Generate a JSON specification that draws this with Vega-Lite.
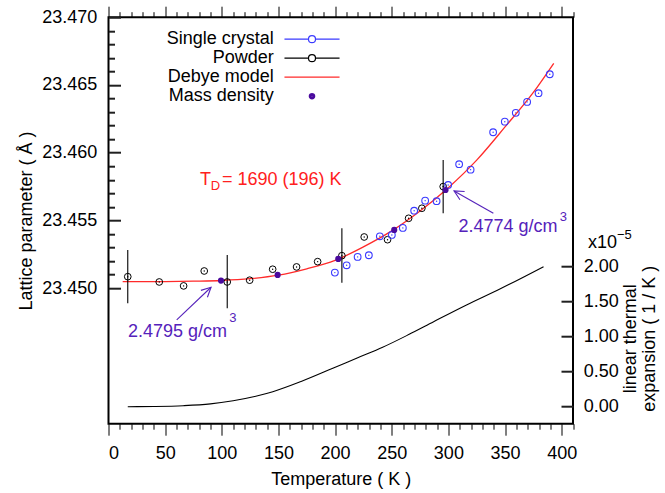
{
  "$schema": "https://vega.github.io/schema/vega-lite/v6.json",
  "width": 464.5,
  "height": 406.5,
  "autosize": "none",
  "padding": {"left": 108.5, "top": 17.2, "right": 92, "bottom": 69.3},
  "config": {
    "font": "Liberation Sans",
    "view": {"stroke": "black", "strokeWidth": 2},
    "axis": {"zindex": 1, "labelFontSize": 18, "titleFontSize": 18, "labelColor": "black", "titleColor": "black", "tickColor": "black", "tickWidth": 1, "tickOpacity": 1, "labelFont": "Liberation Sans", "titleFont": "Liberation Sans", "titleFontWeight": "normal", "grid": false, "domain": false}
  },
  "datasets": {
    "debye": [
      {"T": 12.5, "a": 23.45048}, {"T": 25, "a": 23.45048}, {"T": 50, "a": 23.45049}, {"T": 75, "a": 23.45052},
      {"T": 100, "a": 23.45057}, {"T": 125, "a": 23.4507}, {"T": 150, "a": 23.45096}, {"T": 175, "a": 23.45143},
      {"T": 200, "a": 23.45205}, {"T": 225, "a": 23.45305}, {"T": 250, "a": 23.45423}, {"T": 275, "a": 23.4557},
      {"T": 300, "a": 23.45742}, {"T": 325, "a": 23.45945}, {"T": 350, "a": 23.4619}, {"T": 375, "a": 23.46445},
      {"T": 393, "a": 23.4666}
    ],
    "powder": [
      {"T": 17, "a": 23.45085}, {"T": 44.8, "a": 23.45046}, {"T": 66.3, "a": 23.45017}, {"T": 84.5, "a": 23.45127},
      {"T": 104.8, "a": 23.45046}, {"T": 124.6, "a": 23.45059}, {"T": 144.9, "a": 23.4514}, {"T": 166, "a": 23.45157},
      {"T": 184.6, "a": 23.45196}, {"T": 206, "a": 23.4524}, {"T": 225.7, "a": 23.45378}, {"T": 246.3, "a": 23.45358},
      {"T": 264.9, "a": 23.45516}, {"T": 276.6, "a": 23.4559}, {"T": 295.4, "a": 23.4575}
    ],
    "single": [
      {"T": 199.8, "a": 23.45115}, {"T": 210.2, "a": 23.45169}, {"T": 219.9, "a": 23.45231}, {"T": 229.8, "a": 23.45243},
      {"T": 239.5, "a": 23.45383}, {"T": 250.1, "a": 23.45393}, {"T": 259.8, "a": 23.45445}, {"T": 269.8, "a": 23.45572},
      {"T": 279.5, "a": 23.45646}, {"T": 289.6, "a": 23.45642}, {"T": 299.8, "a": 23.45762}, {"T": 309.5, "a": 23.45915},
      {"T": 319.6, "a": 23.45875}, {"T": 339.5, "a": 23.46151}, {"T": 349.8, "a": 23.46229}, {"T": 359.5, "a": 23.46294},
      {"T": 369.5, "a": 23.46375}, {"T": 379.6, "a": 23.46439}, {"T": 389.5, "a": 23.46579}
    ],
    "density": [
      {"T": 99.3, "a": 23.45056}, {"T": 149.3, "a": 23.45098}, {"T": 202.8, "a": 23.45216}, {"T": 252.2, "a": 23.4543}, {"T": 297.5, "a": 23.45725}
    ],
    "errors": [
      {"T": 17, "lo": 23.44889, "hi": 23.45282}, {"T": 104.8, "lo": 23.44852, "hi": 23.45245},
      {"T": 206, "lo": 23.45041, "hi": 23.45442}, {"T": 295.4, "lo": 23.45553, "hi": 23.45947}
    ],
    "alpha": [
      {"T": 17, "v": 0}, {"T": 40, "v": 0.003}, {"T": 66, "v": 0.014}, {"T": 90, "v": 0.04}, {"T": 110, "v": 0.086},
      {"T": 130, "v": 0.15}, {"T": 145, "v": 0.214}, {"T": 170, "v": 0.36}, {"T": 198, "v": 0.549}, {"T": 220, "v": 0.7},
      {"T": 242, "v": 0.849}, {"T": 265, "v": 1.03}, {"T": 287, "v": 1.214}, {"T": 316, "v": 1.453}, {"T": 345, "v": 1.677},
      {"T": 384, "v": 2.0}
    ],
    "arrows": [
      {"T1": 60.2, "a1": 23.44766, "T2": 90.5, "a2": 23.45007},
      {"T1": 339.7, "a1": 23.45553, "T2": 305.0, "a2": 23.45718}
    ],
    "legend": [
      {"series": "Single crystal"}, {"series": "Powder"}, {"series": "Debye model"}, {"series": "Mass density"}
    ]
  },
  "resolve": {"scale": {"y": "independent"}, "axis": {"x": "independent", "y": "independent"}},
  "layer": [
    {
      "data": {"name": "debye"},
      "mark": {"type": "line", "color": "#ff2a2a", "strokeWidth": 1.3, "interpolate": "monotone"},
      "encoding": {
        "x": {"field": "T", "type": "quantitative", "scale": {"domain": [0, 410], "nice": false, "zero": false},
          "axis": {"orient": "bottom", "values": [0, 50, 100, 150, 200, 250, 300, 350, 400], "tickSize": 11.5, "labelPadding": 9, "title": "Temperature ( K )", "titlePadding": 8}},
        "y": {"field": "a", "type": "quantitative", "scale": {"domain": [23.44, 23.47], "nice": false, "zero": false},
          "axis": {"orient": "left", "offset": -12, "ticks": true, "tickColor": "#202020", "tickWidth": 2, "values": [23.45, 23.455, 23.46, 23.465, 23.47], "format": ".3f", "tickSize": 12, "labelPadding": 11.8, "title": "Lattice parameter ( Å )", "titlePadding": 6}}
      }
    },
    {
      "data": {"name": "errors"},
      "mark": {"type": "rule", "color": "black", "strokeWidth": 1.1},
      "encoding": {
        "x": {"field": "T", "type": "quantitative", "scale": {"domain": [0, 410], "nice": false, "zero": false},
          "axis": {"orient": "bottom", "values": [10, 20, 30, 40, 60, 70, 80, 90, 110, 120, 130, 140, 160, 170, 180, 190, 210, 220, 230, 240, 260, 270, 280, 290, 310, 320, 330, 340, 360, 370, 380, 390, 410], "tickSize": 5.5, "labels": false, "title": null}},
        "y": {"field": "lo", "type": "quantitative", "scale": {"domain": [23.44, 23.47], "nice": false, "zero": false},
          "axis": {"orient": "left", "offset": -6, "ticks": true, "tickColor": "#202020", "tickWidth": 2, "values": [23.451, 23.452, 23.453, 23.454, 23.456, 23.457, 23.458, 23.459, 23.461, 23.462, 23.463, 23.464, 23.466, 23.467, 23.468, 23.469], "tickSize": 6, "labels": false, "title": null}},
        "y2": {"field": "hi"}
      }
    },
    {
      "data": {"name": "powder"},
      "mark": {"type": "point", "shape": "circle", "filled": false, "color": "black", "strokeWidth": 1, "size": 45, "opacity": 1},
      "encoding": {
        "x": {"field": "T", "type": "quantitative", "scale": {"domain": [0, 410], "nice": false, "zero": false},
          "axis": {"orient": "top", "values": [0, 50, 100, 150, 200, 250, 300, 350, 400], "tickSize": 11, "labels": false, "title": null}},
        "y": {"field": "a", "type": "quantitative", "scale": {"domain": [23.44, 23.47], "nice": false, "zero": false}, "axis": null}
      }
    },
    {
      "data": {"name": "powder"},
      "mark": {"type": "point", "shape": "circle", "filled": true, "color": "black", "size": 2, "opacity": 1},
      "encoding": {
        "x": {"field": "T", "type": "quantitative", "scale": {"domain": [0, 410], "nice": false, "zero": false},
          "axis": {"orient": "top", "values": [10, 20, 30, 40, 60, 70, 80, 90, 110, 120, 130, 140, 160, 170, 180, 190, 210, 220, 230, 240, 260, 270, 280, 290, 310, 320, 330, 340, 360, 370, 380, 390, 410], "tickSize": 5.5, "labels": false, "title": null}},
        "y": {"field": "a", "type": "quantitative", "scale": {"domain": [23.44, 23.47], "nice": false, "zero": false}, "axis": null}
      }
    },
    {
      "data": {"name": "single"},
      "mark": {"type": "point", "shape": "circle", "filled": false, "color": "#3a3aff", "strokeWidth": 1.1, "size": 45, "opacity": 1},
      "encoding": {
        "x": {"field": "T", "type": "quantitative", "scale": {"domain": [0, 410], "nice": false, "zero": false}, "axis": null},
        "y": {"field": "a", "type": "quantitative", "scale": {"domain": [23.44, 23.47], "nice": false, "zero": false}, "axis": null}
      }
    },
    {
      "data": {"name": "single"},
      "mark": {"type": "point", "shape": "circle", "filled": true, "color": "#3a3aff", "size": 2, "opacity": 1},
      "encoding": {
        "x": {"field": "T", "type": "quantitative", "scale": {"domain": [0, 410], "nice": false, "zero": false}, "axis": null},
        "y": {"field": "a", "type": "quantitative", "scale": {"domain": [23.44, 23.47], "nice": false, "zero": false}, "axis": null}
      }
    },
    {
      "data": {"name": "density"},
      "mark": {"type": "point", "shape": "circle", "filled": true, "color": "#4a0a9e", "size": 38, "opacity": 1},
      "encoding": {
        "x": {"field": "T", "type": "quantitative", "scale": {"domain": [0, 410], "nice": false, "zero": false}, "axis": null},
        "y": {"field": "a", "type": "quantitative", "scale": {"domain": [23.44, 23.47], "nice": false, "zero": false}, "axis": null}
      }
    },
    {
      "data": {"name": "alpha"},
      "mark": {"type": "line", "color": "black", "strokeWidth": 1.1, "interpolate": "monotone"},
      "encoding": {
        "x": {"field": "T", "type": "quantitative", "scale": {"domain": [0, 410], "nice": false, "zero": false}, "axis": null},
        "y": {"field": "v", "type": "quantitative", "scale": {"domain": [-0.243, 5.564], "nice": false, "zero": false},
          "axis": {"orient": "right", "offset": -12, "ticks": true, "tickColor": "#202020", "tickWidth": 2, "values": [0, 0.5, 1, 1.5, 2], "format": ".2f", "tickSize": 12, "labelPadding": 10.3, "title": ["linear thermal", "expansion ( 1 / K )"], "titleAngle": 270, "titleY": 321, "titlePadding": 2, "titleLineHeight": 19}}
      }
    },
    {
      "data": {"name": "arrows"},
      "mark": {"type": "rule", "color": "#5522bb", "strokeWidth": 1.1},
      "encoding": {
        "x": {"field": "T1", "type": "quantitative", "scale": {"domain": [0, 410], "nice": false, "zero": false}, "axis": null},
        "y": {"field": "a1", "type": "quantitative", "scale": {"domain": [23.44, 23.47], "nice": false, "zero": false}, "axis": null},
        "x2": {"field": "T2"},
        "y2": {"field": "a2"}
      }
    },
    {
      "data": {"values": [{}]},
      "mark": {"type": "point", "shape": "M-1,-0.5L0,0L-1,0.5", "filled": false, "color": "#5522bb", "strokeWidth": 1.1, "size": 360, "angle": 316.4, "opacity": 1},
      "encoding": {
        "x": {"datum": 90.5, "type": "quantitative", "scale": {"domain": [0, 410], "nice": false, "zero": false}, "axis": null},
        "y": {"datum": 23.45007, "type": "quantitative", "scale": {"domain": [23.44, 23.47], "nice": false, "zero": false}, "axis": null}
      }
    },
    {
      "data": {"values": [{}]},
      "mark": {"type": "point", "shape": "M-1,-0.5L0,0L-1,0.5", "filled": false, "color": "#5522bb", "strokeWidth": 1.1, "size": 360, "angle": 209.6, "opacity": 1},
      "encoding": {
        "x": {"datum": 305.0, "type": "quantitative", "scale": {"domain": [0, 410], "nice": false, "zero": false}, "axis": null},
        "y": {"datum": 23.45718, "type": "quantitative", "scale": {"domain": [23.44, 23.47], "nice": false, "zero": false}, "axis": null}
      }
    },
    {
      "data": {"values": [{}]},
      "mark": {"type": "text", "text": "T", "align": "left", "baseline": "middle", "fontSize": 18, "color": "#ff2020"},
      "encoding": {
        "x": {"datum": 80.8, "type": "quantitative", "scale": {"domain": [0, 410], "nice": false, "zero": false}, "axis": null},
        "y": {"datum": 23.45799, "type": "quantitative", "scale": {"domain": [23.44, 23.47], "nice": false, "zero": false}, "axis": null}
      }
    },
    {
      "data": {"values": [{}]},
      "mark": {"type": "text", "text": "D", "align": "left", "baseline": "middle", "fontSize": 13, "color": "#ff2020"},
      "encoding": {
        "x": {"datum": 90.3, "type": "quantitative", "scale": {"domain": [0, 410], "nice": false, "zero": false}, "axis": null},
        "y": {"datum": 23.45755, "type": "quantitative", "scale": {"domain": [23.44, 23.47], "nice": false, "zero": false}, "axis": null}
      }
    },
    {
      "data": {"values": [{}]},
      "mark": {"type": "text", "text": "= 1690 (196) K", "align": "left", "baseline": "middle", "fontSize": 18, "color": "#ff2020"},
      "encoding": {
        "x": {"datum": 100.1, "type": "quantitative", "scale": {"domain": [0, 410], "nice": false, "zero": false}, "axis": null},
        "y": {"datum": 23.45799, "type": "quantitative", "scale": {"domain": [23.44, 23.47], "nice": false, "zero": false}, "axis": null}
      }
    },
    {
      "data": {"values": [{}]},
      "mark": {"type": "text", "text": "2.4795 g/cm", "align": "left", "baseline": "middle", "fontSize": 18, "color": "#5522bb"},
      "encoding": {
        "x": {"datum": 17.2, "type": "quantitative", "scale": {"domain": [0, 410], "nice": false, "zero": false}, "axis": null},
        "y": {"datum": 23.44679, "type": "quantitative", "scale": {"domain": [23.44, 23.47], "nice": false, "zero": false}, "axis": null}
      }
    },
    {
      "data": {"values": [{}]},
      "mark": {"type": "text", "text": "3", "align": "left", "baseline": "middle", "fontSize": 13, "color": "#5522bb"},
      "encoding": {
        "x": {"datum": 106.6, "type": "quantitative", "scale": {"domain": [0, 410], "nice": false, "zero": false}, "axis": null},
        "y": {"datum": 23.4478, "type": "quantitative", "scale": {"domain": [23.44, 23.47], "nice": false, "zero": false}, "axis": null}
      }
    },
    {
      "data": {"values": [{}]},
      "mark": {"type": "text", "text": "2.4774 g/cm", "align": "left", "baseline": "middle", "fontSize": 18, "color": "#5522bb"},
      "encoding": {
        "x": {"datum": 308.9, "type": "quantitative", "scale": {"domain": [0, 410], "nice": false, "zero": false}, "axis": null},
        "y": {"datum": 23.45454, "type": "quantitative", "scale": {"domain": [23.44, 23.47], "nice": false, "zero": false}, "axis": null}
      }
    },
    {
      "data": {"values": [{}]},
      "mark": {"type": "text", "text": "3", "align": "left", "baseline": "middle", "fontSize": 13, "color": "#5522bb"},
      "encoding": {
        "x": {"datum": 398.3, "type": "quantitative", "scale": {"domain": [0, 410], "nice": false, "zero": false}, "axis": null},
        "y": {"datum": 23.45526, "type": "quantitative", "scale": {"domain": [23.44, 23.47], "nice": false, "zero": false}, "axis": null}
      }
    },
    {
      "data": {"values": [{}]},
      "mark": {"type": "text", "text": "x10", "align": "left", "baseline": "middle", "fontSize": 18, "color": "black"},
      "encoding": {
        "x": {"datum": 423.3, "type": "quantitative", "scale": {"domain": [0, 410], "nice": false, "zero": false}, "axis": null},
        "y": {"datum": 2.339, "type": "quantitative", "scale": {"domain": [-0.243, 5.564], "nice": false, "zero": false}, "axis": null}
      }
    },
    {
      "data": {"values": [{}]},
      "mark": {"type": "text", "text": "−5", "align": "left", "baseline": "middle", "fontSize": 13, "color": "black"},
      "encoding": {
        "x": {"datum": 448.8, "type": "quantitative", "scale": {"domain": [0, 410], "nice": false, "zero": false}, "axis": null},
        "y": {"datum": 2.45, "type": "quantitative", "scale": {"domain": [-0.243, 5.564], "nice": false, "zero": false}, "axis": null}
      }
    },
    {
      "data": {"name": "legend"},
      "mark": {"type": "point", "filled": false, "opacity": 0, "strokeWidth": 1.2},
      "encoding": {
        "color": {"field": "series", "type": "nominal",
          "scale": {"domain": ["Single crystal", "Powder", "Debye model", "Mass density"], "range": ["#3a3aff", "black", "#ff2a2a", "#4a0a9e"]},
          "legend": {"title": null, "orient": "none", "legendX": 193.5, "legendY": 12, "labelAlign": "right", "labelOffset": -48.3, "labelFontSize": 18, "labelFont": "Liberation Sans", "labelColor": "black", "labelLimit": 0, "symbolSize": 324, "symbolStrokeWidth": 1.2, "symbolOpacity": 1, "rowPadding": 0, "padding": 0}},
        "shape": {"field": "series", "type": "nominal",
          "scale": {"domain": ["Single crystal", "Powder", "Debye model", "Mass density"], "range": ["M-3.06,0L-0.39,0M0.39,0L3.06,0M-0.39,0A0.39,0.39,0,1,1,0.39,0A0.39,0.39,0,1,1,-0.39,0", "M-3.06,0L-0.39,0M0.39,0L3.06,0M-0.39,0A0.39,0.39,0,1,1,0.39,0A0.39,0.39,0,1,1,-0.39,0", "M-3.06,0L3.06,0", "M-0.3,0A0.3,0.3,0,1,1,0.3,0A0.3,0.3,0,1,1,-0.3,0M-0.2,0A0.2,0.2,0,1,1,0.2,0A0.2,0.2,0,1,1,-0.2,0M-0.1,0A0.1,0.1,0,1,1,0.1,0A0.1,0.1,0,1,1,-0.1,0"]},
          "legend": {"title": null, "orient": "none", "legendX": 193.5, "legendY": 12, "labelAlign": "right", "labelOffset": -48.3, "labelFontSize": 18, "labelFont": "Liberation Sans", "labelColor": "black", "labelLimit": 0, "symbolSize": 324, "symbolStrokeWidth": 1.2, "symbolOpacity": 1, "rowPadding": 0, "padding": 0}}
      }
    }
  ]
}
